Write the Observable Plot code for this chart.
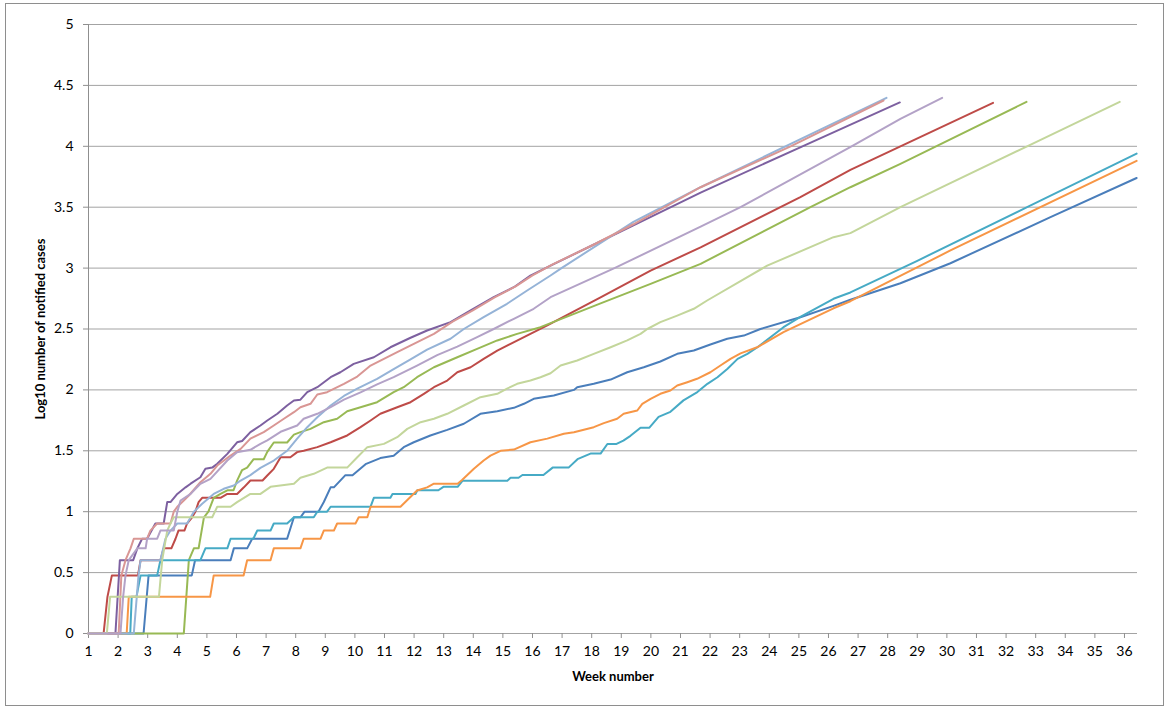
<!DOCTYPE html>
<html><head><meta charset="utf-8">
<script src="https://cdn.jsdelivr.net/npm/d3@7"></script>
<script src="https://cdn.jsdelivr.net/npm/@observablehq/plot@0.6"></script>
<style>
html,body{margin:0;padding:0;background:#fff;}
#wrap{position:relative;width:1167px;height:709px;overflow:hidden;}
#border{position:absolute;left:5px;top:3px;width:1159px;height:703px;border:1px solid #8e8e8e;box-sizing:border-box;pointer-events:none;}
</style></head><body>
<div id="wrap"><div id="border"></div></div>
<script>
const xTitle = "Week number";
const yTitle = "Log10 number of notified cases";
const weekTicks = d3.range(1, 37);
const yTicks = [0, 0.5, 1, 1.5, 2, 2.5, 3, 3.5, 4, 4.5, 5];

const seriesColors = ["#4A7EBB", "#BE4B48", "#98B954", "#7D60A0", "#46AAC5", "#F79646", "#95B3D7", "#D99694", "#C3D69B", "#B3A2C7"];

// [week, log10 cases]
const darkBlue = [[1,0],[2.86,0],[3.03,0.477],[4.49,0.477],[4.60,0.602],[5.80,0.602],[5.91,0.699],[6.36,0.699],[6.53,0.778],[7.71,0.778],[7.94,0.954],[8.16,0.954],[8.30,1.0],[8.77,1.0],[8.95,1.08],[9.18,1.2],[9.29,1.2],[9.68,1.3],[9.92,1.3],[10.36,1.39],[10.86,1.44],[11.31,1.46],[11.65,1.53],[11.99,1.57],[12.55,1.626],[13.12,1.672],[13.68,1.722],[14.24,1.804],[14.81,1.825],[15.37,1.853],[15.71,1.886],[16.04,1.927],[16.72,1.954],[17.40,2.0],[17.51,2.022],[18.07,2.05],[18.64,2.085],[19.20,2.145],[19.76,2.186],[20.32,2.233],[20.89,2.296],[21.45,2.323],[22.01,2.373],[22.58,2.42],[23.14,2.446],[23.70,2.5],[25.05,2.597],[26.17,2.69],[26.74,2.74],[28.43,2.876],[30.12,3.04],[33.50,3.418],[36.41,3.74]];
const red = [[1,0],[1.51,0],[1.64,0.301],[1.79,0.477],[2.67,0.477],[2.76,0.602],[3.43,0.602],[3.54,0.699],[3.80,0.699],[3.94,0.778],[4.04,0.845],[4.24,0.845],[4.33,0.903],[4.50,0.954],[4.61,1.0],[4.72,1.079],[4.84,1.114],[5.46,1.114],[5.69,1.146],[6.02,1.146],[6.25,1.2],[6.47,1.256],[6.88,1.256],[7.04,1.297],[7.26,1.352],[7.49,1.447],[7.82,1.447],[8.05,1.489],[8.27,1.5],[8.73,1.53],[9.18,1.57],[9.74,1.626],[10.19,1.694],[10.53,1.749],[10.86,1.804],[11.43,1.858],[11.88,1.899],[12.33,1.968],[12.67,2.022],[13.12,2.077],[13.46,2.145],[13.91,2.186],[14.35,2.255],[14.81,2.323],[15.26,2.378],[15.93,2.46],[16.50,2.529],[18.30,2.76],[19.99,2.98],[21.68,3.17],[25.05,3.583],[26.74,3.807],[28.43,4.0],[31.56,4.357]];
const green = [[1,0],[4.22,0],[4.39,0.602],[4.56,0.699],[4.72,0.699],[4.90,0.954],[5.05,1.0],[5.23,1.114],[5.46,1.146],[5.69,1.176],[5.90,1.176],[6.02,1.255],[6.19,1.342],[6.36,1.362],[6.58,1.431],[6.92,1.431],[7.04,1.491],[7.26,1.568],[7.71,1.568],[7.94,1.633],[8.16,1.653],[8.50,1.68],[8.95,1.735],[9.40,1.763],[9.74,1.825],[10.19,1.858],[10.75,1.899],[11.31,1.981],[11.65,2.022],[12.10,2.104],[12.67,2.186],[13.46,2.268],[14.13,2.337],[14.81,2.406],[15.48,2.46],[16.27,2.515],[18.30,2.71],[19.99,2.87],[21.68,3.035],[25.39,3.5],[26.74,3.664],[28.43,3.856],[32.69,4.365]];
const purple = [[1,0],[1.91,0],[2.06,0.602],[2.51,0.602],[2.65,0.699],[2.81,0.778],[2.98,0.778],[3.26,0.903],[3.54,0.903],[3.66,1.079],[3.77,1.079],[4.00,1.146],[4.28,1.2],[4.45,1.23],[4.78,1.283],[4.95,1.352],[5.18,1.362],[5.35,1.393],[5.69,1.475],[6.02,1.57],[6.19,1.58],[6.47,1.653],[6.81,1.708],[7.04,1.749],[7.38,1.804],[7.71,1.872],[7.94,1.913],[8.16,1.92],[8.39,1.982],[8.73,2.022],[9.18,2.104],[9.51,2.145],[9.96,2.214],[10.64,2.268],[11.20,2.35],[11.88,2.428],[12.44,2.488],[13.23,2.556],[13.91,2.652],[14.69,2.761],[15.37,2.843],[15.93,2.939],[16.61,3.02],[18.13,3.2],[19.41,3.35],[21.68,3.62],[25.12,4.0],[28.41,4.36]];
const teal = [[1,0],[2.41,0],[2.46,0.301],[2.62,0.301],[2.76,0.477],[3.32,0.477],[3.43,0.602],[4.78,0.602],[4.95,0.699],[5.69,0.699],[5.80,0.778],[6.57,0.778],[6.70,0.845],[7.15,0.845],[7.26,0.903],[7.71,0.903],[7.94,0.954],[8.61,0.954],[8.73,1.0],[9.06,1.0],[9.18,1.041],[10.53,1.041],[10.64,1.114],[11.20,1.114],[11.27,1.146],[12.05,1.146],[12.11,1.176],[12.82,1.176],[12.99,1.204],[13.47,1.204],[13.64,1.255],[15.15,1.255],[15.26,1.279],[15.53,1.279],[15.66,1.301],[16.37,1.301],[16.68,1.362],[17.22,1.362],[17.52,1.431],[17.96,1.477],[18.30,1.477],[18.53,1.556],[18.84,1.556],[19.07,1.584],[19.31,1.623],[19.65,1.69],[19.95,1.69],[20.26,1.778],[20.66,1.82],[21.10,1.914],[21.57,1.982],[21.91,2.05],[22.25,2.104],[22.59,2.173],[22.93,2.255],[23.26,2.296],[23.60,2.35],[24.48,2.515],[25.05,2.6],[26.17,2.748],[26.74,2.8],[29.00,3.06],[32.71,3.5],[36.41,3.94]];
const orange = [[1,0],[2.29,0],[2.36,0.301],[5.11,0.301],[5.23,0.477],[6.24,0.477],[6.36,0.602],[7.15,0.602],[7.26,0.699],[8.16,0.699],[8.27,0.778],[8.84,0.778],[8.95,0.845],[9.29,0.845],[9.40,0.903],[10.02,0.903],[10.13,0.954],[10.42,0.954],[10.53,1.041],[11.54,1.041],[12.10,1.174],[12.44,1.2],[12.67,1.23],[13.47,1.23],[13.62,1.26],[14.02,1.352],[14.35,1.42],[14.58,1.46],[14.92,1.5],[15.37,1.51],[15.93,1.57],[16.50,1.6],[17.06,1.64],[17.40,1.653],[18.07,1.694],[18.41,1.727],[18.86,1.763],[19.08,1.804],[19.54,1.831],[19.71,1.886],[19.99,1.927],[20.32,1.968],[20.66,1.995],[20.89,2.036],[21.23,2.063],[21.56,2.091],[22.01,2.145],[22.35,2.2],[22.69,2.255],[23.03,2.3],[23.59,2.35],[24.48,2.474],[26.17,2.67],[26.74,2.728],[30.12,3.145],[36.41,3.88]];
const lightBlue = [[1,0],[2.53,0],[2.69,0.477],[2.76,0.602],[3.43,0.602],[3.60,0.778],[3.77,0.845],[4.00,0.903],[4.33,0.903],[4.56,1.0],[4.84,1.065],[5.23,1.146],[5.57,1.188],[5.91,1.215],[6.14,1.256],[6.47,1.30],[6.81,1.36],[7.26,1.42],[7.71,1.5],[8.05,1.6],[8.39,1.694],[8.73,1.776],[9.18,1.872],[9.63,1.95],[10.08,2.01],[10.75,2.09],[11.31,2.17],[11.88,2.25],[12.44,2.33],[13.23,2.42],[13.68,2.5],[14.35,2.597],[15.14,2.707],[15.82,2.816],[16.61,2.939],[16.98,3.0],[19.41,3.38],[21.68,3.664],[27.96,4.398]];
const pink = [[1,0],[2.02,0],[2.11,0.477],[2.25,0.602],[2.42,0.699],[2.53,0.778],[2.98,0.778],[3.09,0.845],[3.32,0.903],[3.77,0.903],[3.88,1.0],[4.00,1.041],[4.22,1.092],[4.39,1.133],[4.78,1.242],[5.12,1.311],[5.35,1.379],[5.80,1.461],[6.14,1.516],[6.47,1.60],[6.92,1.653],[7.26,1.708],[7.60,1.763],[7.94,1.817],[8.16,1.858],[8.50,1.886],[8.73,1.962],[9.06,1.981],[9.63,2.05],[10.08,2.11],[10.53,2.2],[10.98,2.255],[11.43,2.31],[11.99,2.378],[12.67,2.46],[13.30,2.56],[13.97,2.65],[14.72,2.76],[15.43,2.85],[16.00,2.94],[16.68,3.03],[18.13,3.2],[19.41,3.36],[21.68,3.664],[24.72,4.0],[27.86,4.376]];
const lightGreen = [[1,0],[1.62,0],[1.73,0.301],[3.38,0.301],[3.49,0.602],[3.66,0.845],[3.77,0.903],[3.88,0.954],[5.18,0.954],[5.35,1.041],[5.80,1.041],[6.02,1.079],[6.47,1.146],[6.81,1.146],[7.15,1.204],[7.94,1.23],[8.16,1.279],[8.61,1.311],[9.06,1.362],[9.74,1.362],[10.08,1.447],[10.42,1.53],[10.98,1.557],[11.43,1.612],[11.77,1.68],[12.22,1.735],[12.67,1.763],[13.12,1.804],[13.68,1.872],[14.24,1.94],[14.81,1.968],[15.14,2.01],[15.48,2.05],[15.93,2.077],[16.27,2.104],[16.61,2.137],[16.95,2.2],[17.51,2.241],[18.07,2.296],[18.64,2.35],[19.20,2.406],[19.65,2.46],[19.88,2.5],[20.32,2.556],[20.89,2.61],[21.45,2.666],[21.90,2.734],[23.93,3.02],[26.17,3.254],[26.74,3.287],[28.43,3.5],[32.71,4.0],[35.84,4.365]];
const lightPurple = [[1,0],[2.08,0],[2.17,0.301],[2.25,0.477],[2.36,0.602],[2.65,0.699],[2.93,0.699],[2.98,0.778],[3.32,0.778],[3.43,0.845],[3.88,0.845],[4.00,1.0],[4.11,1.092],[4.45,1.146],[4.78,1.229],[5.12,1.27],[5.69,1.42],[6.02,1.489],[6.47,1.508],[6.81,1.557],[7.04,1.585],[7.49,1.656],[8.05,1.708],[8.27,1.763],[8.73,1.804],[9.18,1.858],[9.63,1.92],[10.19,1.98],[10.75,2.045],[11.31,2.105],[12.10,2.2],[12.78,2.285],[13.46,2.355],[14.13,2.433],[14.69,2.5],[15.37,2.584],[16.04,2.666],[16.61,2.761],[18.77,3.0],[21.68,3.34],[23.03,3.5],[26.78,4.0],[28.43,4.226],[29.84,4.398]];

const allSeries = [darkBlue, red, green, purple, teal, orange, lightBlue, pink, lightGreen, lightPurple];

const lineMarks = allSeries.map((s, i) =>
  Plot.line(s, {x: d => d[0], y: d => d[1], stroke: seriesColors[i], strokeWidth: 2, strokeLinejoin: "round"})
);

const chart = Plot.plot({
  width: 1167,
  height: 709,
  marginLeft: 88,
  marginRight: 30,
  marginTop: 24,
  marginBottom: 76,
  x: {domain: [1, 36.44]},
  y: {domain: [0, 5]},
  style: {fontFamily: "Lato, 'Open Sans', sans-serif", fontSize: "14px", background: "transparent", color: "#000"},
  marks: [
    Plot.gridY(yTicks, {stroke: "#a3a3a3", strokeOpacity: 1, strokeWidth: 1}),
    Plot.ruleX([1], {stroke: "#8f8f8f", strokeWidth: 1}),
    Plot.axisY(yTicks, {tickSize: 5, tickPadding: 10, tickFormat: d => String(d), label: null, stroke: "#8f8f8f"}),
    Plot.axisX(weekTicks, {tickSize: 5, tickPadding: 8, tickFormat: d => String(d), label: null, stroke: "#8f8f8f"}),
    ...lineMarks,
    Plot.text([yTitle], {text: d => d, frameAnchor: "left", dx: -48, rotate: -90, textAnchor: "middle", fontWeight: "bold", fontSize: 13}),
    Plot.text([xTitle], {text: d => d, frameAnchor: "bottom", dy: 47, textAnchor: "middle", fontWeight: "bold", fontSize: 13})
  ]
});
document.getElementById("wrap").prepend(chart);
</script>
</body></html>
